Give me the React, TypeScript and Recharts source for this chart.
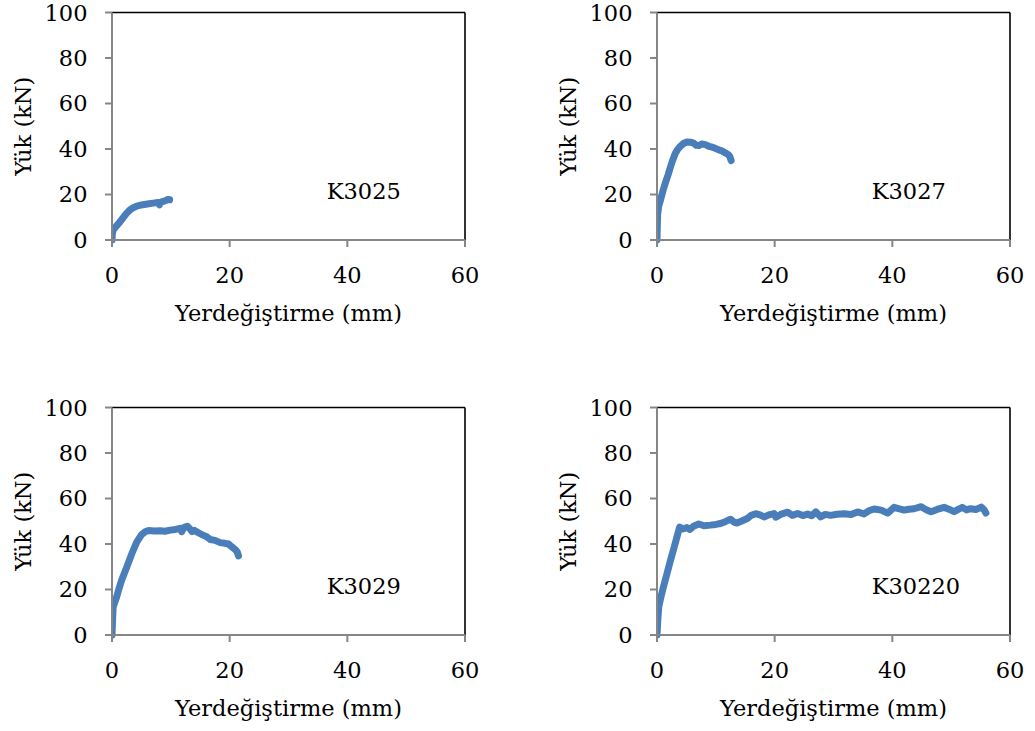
import React from 'react';
import { LineChart, Line, XAxis, YAxis, ReferenceLine, ReferenceDot } from 'recharts';

type Pt = { x: number; y: number };

const xTicks = [0, 20, 40, 60];
const yTicks = [0, 20, 40, 60, 80, 100];
const xTitle = 'Yerdeğiştirme (mm)';
const yTitle = 'Yük (kN)';
const specimenNames = ['K3025', 'K3027', 'K3029', 'K30220'];

const k3025: Pt[] = [
  { x: 0, y: 0 }, { x: 0.05, y: 2.5 }, { x: 0.2, y: 4.4 }, { x: 0.7, y: 6 }, { x: 1.3, y: 7.8 },
  { x: 1.9, y: 9.8 }, { x: 2.5, y: 11.8 }, { x: 3.0, y: 13.1 }, { x: 3.6, y: 14.2 }, { x: 4.2, y: 14.9 },
  { x: 5.0, y: 15.4 }, { x: 6.0, y: 15.8 }, { x: 7.0, y: 16.2 }, { x: 7.8, y: 16.5 }, { x: 8.1, y: 15.5 },
  { x: 8.3, y: 16.7 }, { x: 9.0, y: 17.2 }, { x: 9.5, y: 17.8 }, { x: 9.8, y: 17.7 },
];

const k3027: Pt[] = [
  { x: 0, y: 0 }, { x: 0.05, y: 6 }, { x: 0.1, y: 11 }, { x: 0.3, y: 15 }, { x: 0.6, y: 17.6 },
  { x: 1.0, y: 21.5 }, { x: 1.4, y: 24.9 }, { x: 1.9, y: 28.8 }, { x: 2.3, y: 32.2 }, { x: 2.7, y: 35.3 },
  { x: 3.1, y: 38 }, { x: 3.5, y: 39.8 }, { x: 4.0, y: 41.3 }, { x: 4.5, y: 42.4 }, { x: 5.1, y: 43.1 },
  { x: 5.7, y: 43.0 }, { x: 6.2, y: 42.6 }, { x: 6.7, y: 41.6 }, { x: 7.1, y: 41.5 }, { x: 7.6, y: 42.2 },
  { x: 8.2, y: 41.9 }, { x: 8.8, y: 41.2 }, { x: 9.4, y: 40.8 }, { x: 9.9, y: 40.3 }, { x: 10.5, y: 39.6 },
  { x: 11.0, y: 39.2 }, { x: 11.6, y: 38.3 }, { x: 12.1, y: 37.6 }, { x: 12.4, y: 36.6 }, { x: 12.6, y: 34.9 },
];

const k3029: Pt[] = [
  { x: 0, y: 0 }, { x: 0.1, y: 7 }, { x: 0.2, y: 12.4 }, { x: 0.8, y: 16.8 }, { x: 1.2, y: 20.5 },
  { x: 1.65, y: 24.2 }, { x: 2.5, y: 29.8 }, { x: 3.35, y: 35.6 }, { x: 4.2, y: 40.8 }, { x: 5.05, y: 44.2 },
  { x: 5.7, y: 45.5 }, { x: 6.2, y: 45.9 }, { x: 7.2, y: 45.7 }, { x: 8.2, y: 45.8 }, { x: 9.0, y: 45.6 },
  { x: 9.9, y: 46.1 }, { x: 10.8, y: 46.4 }, { x: 11.6, y: 46.9 }, { x: 11.85, y: 45.4 }, { x: 12.2, y: 47.2 },
  { x: 12.8, y: 47.8 }, { x: 13.3, y: 46.5 }, { x: 13.6, y: 45.5 }, { x: 14.0, y: 46.0 }, { x: 14.4, y: 45.3 },
  { x: 15.0, y: 44.5 }, { x: 15.55, y: 43.8 }, { x: 16.1, y: 43.2 }, { x: 16.7, y: 42.0 }, { x: 17.5, y: 41.6 },
  { x: 18.4, y: 40.6 }, { x: 19.2, y: 40.3 }, { x: 19.8, y: 40.0 }, { x: 20.2, y: 39.1 }, { x: 20.6, y: 38.3 },
  { x: 21.0, y: 37.4 }, { x: 21.3, y: 36.4 }, { x: 21.5, y: 34.8 },
];

const k30220: Pt[] = [
  { x: 0, y: 0 }, { x: 0.15, y: 7 }, { x: 0.3, y: 12.4 }, { x: 0.7, y: 17 }, { x: 1.1, y: 21.2 },
  { x: 1.7, y: 27 }, { x: 2.3, y: 32.9 }, { x: 2.9, y: 38.4 }, { x: 3.4, y: 43.2 }, { x: 3.85, y: 47.4 },
  { x: 4.4, y: 46.6 }, { x: 5.1, y: 47.2 }, { x: 5.6, y: 46.4 }, { x: 6.2, y: 47.8 }, { x: 7.1, y: 48.8 },
  { x: 8.0, y: 48.0 }, { x: 9.1, y: 48.3 }, { x: 10.0, y: 48.6 }, { x: 10.8, y: 49.0 }, { x: 11.6, y: 49.8 },
  { x: 12.5, y: 50.9 }, { x: 13.1, y: 49.6 }, { x: 13.6, y: 49.2 }, { x: 14.5, y: 50.2 }, { x: 15.35, y: 51.2 },
  { x: 16.0, y: 52.6 }, { x: 16.8, y: 53.3 }, { x: 17.5, y: 52.8 }, { x: 18.2, y: 51.9 }, { x: 19.0, y: 52.8 },
  { x: 19.9, y: 53.4 }, { x: 20.2, y: 51.8 }, { x: 21.0, y: 53.0 }, { x: 22.2, y: 54.0 }, { x: 23.0, y: 52.6 },
  { x: 23.9, y: 53.4 }, { x: 24.8, y: 52.5 }, { x: 25.6, y: 53.2 }, { x: 26.3, y: 52.4 }, { x: 27.0, y: 54.1 },
  { x: 27.8, y: 51.9 }, { x: 28.6, y: 53.0 }, { x: 29.5, y: 52.6 }, { x: 30.6, y: 53.1 }, { x: 31.8, y: 53.3 },
  { x: 33.0, y: 53.0 }, { x: 34.1, y: 54.1 }, { x: 35.2, y: 53.2 }, { x: 36.0, y: 54.6 }, { x: 36.9, y: 55.4 },
  { x: 38.1, y: 54.9 }, { x: 39.2, y: 53.6 }, { x: 40.3, y: 56.1 }, { x: 41.2, y: 55.4 }, { x: 42.0, y: 54.9 },
  { x: 42.8, y: 55.3 }, { x: 43.7, y: 55.5 }, { x: 44.9, y: 56.4 }, { x: 45.8, y: 55.0 }, { x: 46.6, y: 54.2 },
  { x: 47.6, y: 55.2 }, { x: 48.8, y: 56.1 }, { x: 49.6, y: 55.3 }, { x: 50.5, y: 54.2 }, { x: 51.2, y: 55.2 },
  { x: 51.9, y: 56.1 }, { x: 52.6, y: 55.0 }, { x: 53.3, y: 55.5 }, { x: 54.2, y: 55.2 }, { x: 55.1, y: 56.2 },
  { x: 55.6, y: 55.0 }, { x: 55.9, y: 53.6 },
];

const seriesData = [k3025, k3027, k3029, k30220];
const panelLeft = [0, 545, 0, 545];
const panelTop = [0, 0, 395, 395];

const FONT = 'DejaVu Serif';
const FS = 22.5;
const BLUE = '#4A7EBB';
const AXIS = '#868686';

const YTitle = (props: any) => {
  const vb = props.viewBox || { x: 0, y: 0, width: 0, height: 0 };
  const cx = vb.x + 23;
  const cy = vb.y + vb.height / 2;
  return (
    <text
      x={cx}
      y={cy}
      transform={`rotate(-90, ${cx}, ${cy})`}
      textAnchor="middle"
      dominantBaseline="central"
      fontFamily={FONT}
      fontSize={FS}
      fill="#000"
    >
      {yTitle}
    </text>
  );
};

function Panel({ data, name, left, top }: { data: Pt[]; name: string; left: number; top: number }) {
  return (
    <div style={{ position: 'absolute', left, top }}>
      <LineChart width={520} height={340} data={data} margin={{ top: 12.5, right: 55, bottom: 0, left: 0 }}>
        <XAxis
          dataKey="x"
          type="number"
          domain={[0, 60]}
          ticks={xTicks}
          allowDataOverflow
          height={100}
          tickSize={7}
          tickMargin={20}
          axisLine={{ stroke: AXIS, strokeWidth: 2 }}
          tickLine={{ stroke: AXIS, strokeWidth: 2 }}
          tick={{ fill: '#000', fontSize: FS, fontFamily: FONT }}
          label={{ value: xTitle, position: 'insideBottom', offset: 19, fill: '#000', fontSize: FS, fontFamily: FONT }}
        />
        <YAxis
          type="number"
          domain={[0, 100]}
          ticks={yTicks}
          width={112}
          tickSize={7}
          tickMargin={17.5}
          axisLine={{ stroke: AXIS, strokeWidth: 2 }}
          tickLine={{ stroke: AXIS, strokeWidth: 2 }}
          tick={{ fill: '#000', fontSize: FS, fontFamily: FONT }}
          label={{ content: YTitle }}
        />
        <ReferenceLine y={100} stroke="#000" strokeWidth={1.6} />
        <ReferenceLine x={60} stroke="#000" strokeWidth={1.6} />
        <Line
          dataKey="y"
          type="linear"
          dot={false}
          stroke={BLUE}
          strokeWidth={7}
          strokeLinecap="round"
          strokeLinejoin="round"
          isAnimationActive={false}
        />
        <ReferenceDot
          x={36.5}
          y={21.5}
          r={0}
          stroke="none"
          fill="none"
          label={{ value: name, position: 'right', offset: 0, fill: '#000', fontSize: FS, fontFamily: FONT }}
        />
      </LineChart>
    </div>
  );
}

export default function App() {
  return (
    <div style={{ position: 'absolute', left: 0, top: 0, width: 1035, height: 731, background: '#fff' }}>
      {seriesData.map((d, i) => (
        <Panel key={specimenNames[i]} data={d} name={specimenNames[i]} left={panelLeft[i]} top={panelTop[i]} />
      ))}
    </div>
  );
}
